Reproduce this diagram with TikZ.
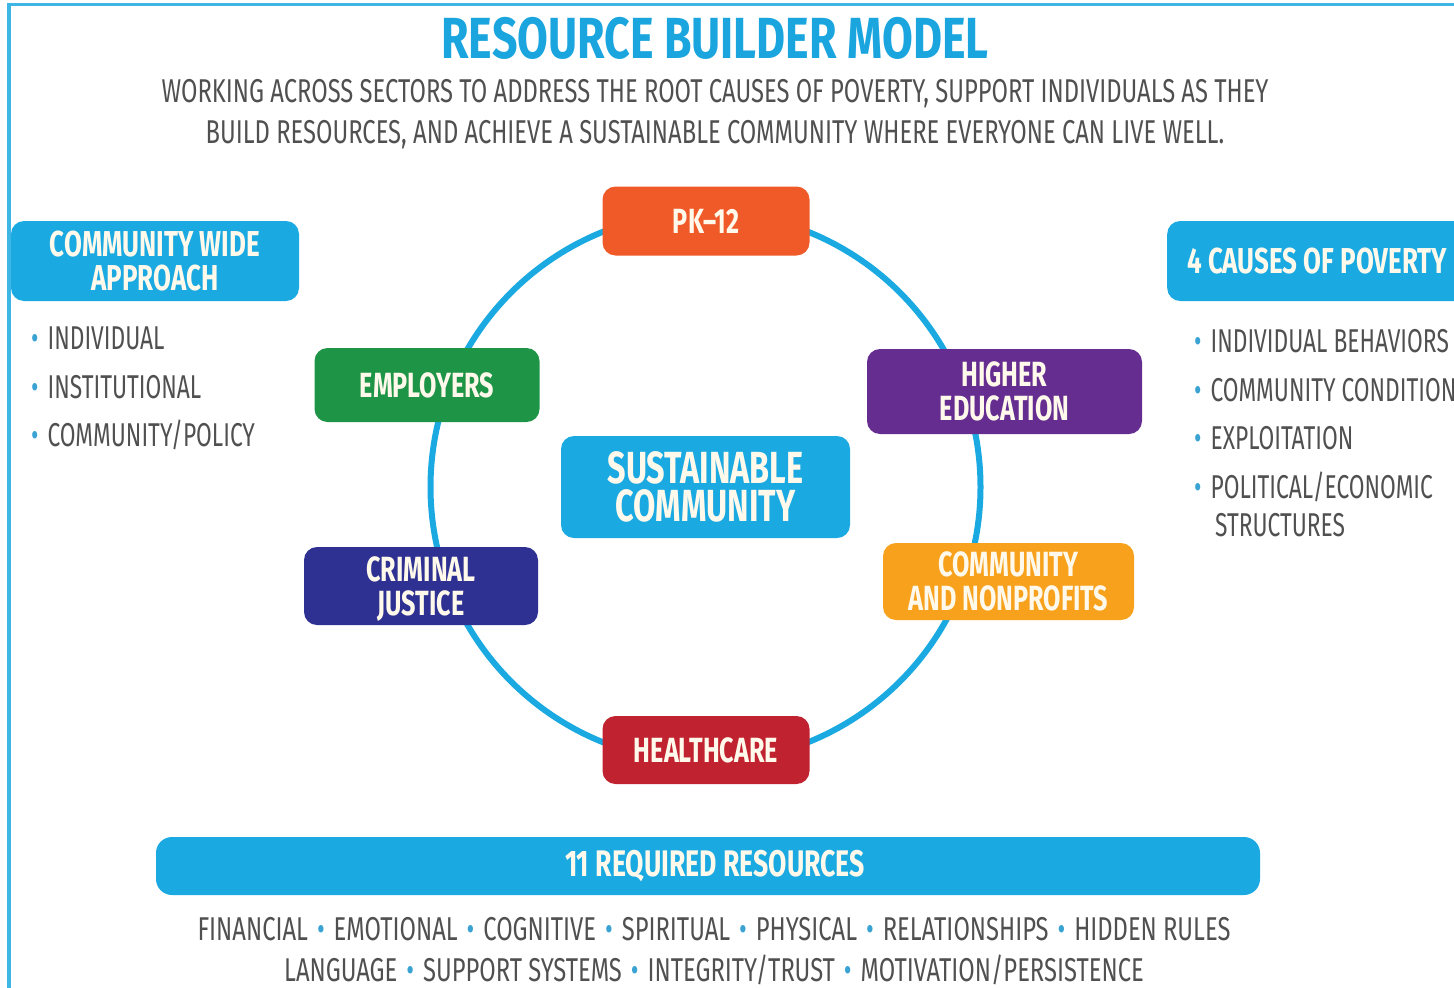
\documentclass[tikz,border=0pt]{standalone}
\usepackage{fontspec}
\setmainfont{Fira Sans}[FakeStretch=0.72]
\newfontfamily\titlefont{Fira Sans}[FakeStretch=0.77]
\newfontfamily\listfont{Fira Sans}[FakeStretch=0.69]
\usetikzlibrary{positioning}

\definecolor{skyblue}{HTML}{1BA9E1}
\definecolor{titleblue}{HTML}{1AA5DE}
\definecolor{greytext}{HTML}{505050}
\definecolor{bulletblue}{HTML}{3AA3D3}
\definecolor{boxtext}{HTML}{FFF9EC}
\definecolor{pkorange}{HTML}{F05A28}
\definecolor{empgreen}{HTML}{1E9447}
\definecolor{edupurple}{HTML}{662D91}
\definecolor{justnavy}{HTML}{2E3192}
\definecolor{nonprofit}{HTML}{F7A11C}
\definecolor{healthred}{HTML}{C1222F}

\newcommand{\bul}{{\color{bulletblue}•}}
\newcommand{\sepbul}{\hspace{9pt}\bul\hspace{9pt}}

\tikzset{
  sector/.style={rounded corners=13pt, text=boxtext, align=center, inner sep=0pt,
    font=\bfseries\fontsize{35}{34}\selectfont},
  header/.style={sector, fill=skyblue, font=\bfseries\fontsize{36}{34}\selectfont},
  greyline/.style={text=greytext, inner sep=0pt, font=\fontsize{33}{33}\selectfont},
  listline/.style={greyline, anchor=base west, font=\listfont\fontsize{33}{33}\selectfont},
}

\begin{document}
\begin{tikzpicture}[x=1pt,y=-1pt]
\useasboundingbox (0,0) rectangle (1454,988);
\draw[skyblue!85, line width=3.5pt] (9,988) -- (9,4.5) -- (1454,4.5);

% title and subtitle
\node[anchor=base, text=titleblue, inner sep=0pt, font=\titlefont\bfseries\fontsize{58}{58}\selectfont] (title) at (715,58) {RESOURCE BUILDER MODEL};
\node[greyline, anchor=base] (sub1) at (715,102) {WORKING ACROSS SECTORS TO ADDRESS THE ROOT CAUSES OF POVERTY, SUPPORT INDIVIDUALS AS THEY};
\node[greyline, anchor=base] (sub2) at (715,143) {BUILD RESOURCES, AND ACHIEVE A SUSTAINABLE COMMUNITY WHERE EVERYONE CAN LIVE WELL.};

% the ring of sectors
\node[sector, fill=skyblue, minimum width=289pt, minimum height=102pt,
  font=\bfseries\fontsize{45}{38}\selectfont] (sust) at (705.5,487) {SUSTAINABLE\\COMMUNITY};
\draw[skyblue, line width=6pt] (sust.center) circle (275);

\node[sector, fill=pkorange, minimum width=207pt, minimum height=69pt] (pk) at (706,221) {PK--12};
\node[sector, fill=empgreen, minimum width=225pt, minimum height=74pt] (emp) at (427,385) {EMPLOYERS};
\node[sector, fill=edupurple, minimum width=275pt, minimum height=85pt] (edu) at (1004.5,391.5) {HIGHER\\EDUCATION};
\node[sector, fill=justnavy, minimum width=234pt, minimum height=78pt] (just) at (421,586) {\rule{0pt}{31pt}CRIMINAL\\JUSTICE};
\node[sector, fill=nonprofit, minimum width=251pt, minimum height=77pt] (nonp) at (1008.5,581.5) {COMMUNITY\\AND NONPROFITS};
\node[sector, fill=healthred, minimum width=207pt, minimum height=68pt] (health) at (706,750) {HEALTHCARE};

% left column
\node[header, minimum width=288pt, minimum height=80pt] (approach) at (155,261) {COMMUNITY WIDE\\APPROACH};
\foreach \y/\t in {349/INDIVIDUAL, 398/INSTITUTIONAL, 446/{COMMUNITY/POLICY}}
  \node[listline] at (31,\y) {\bul\hspace{9pt}\t};

% right column
\node[header, minimum width=300pt, minimum height=80pt, anchor=west] (causes) at (1167,261) {4 CAUSES OF POVERTY};
\foreach \y/\t in {352/INDIVIDUAL BEHAVIORS, 401/COMMUNITY CONDITION, 449/EXPLOITATION, 498/{POLITICAL/ECONOMIC}}
  \node[listline] at (1194,\y) {\bul\hspace{9pt}\t};
\node[listline] (struct) at (1215,536) {STRUCTURES};

% bottom band
\node[header, minimum width=1104pt, minimum height=58pt, rounded corners=16pt,
  font=\bfseries\fontsize{37}{34}\selectfont] (resources) at (708,866) {\hspace*{14pt}11 REQUIRED RESOURCES};
\node[greyline, anchor=base] (res1) at (714,940) {FINANCIAL\sepbul EMOTIONAL\sepbul COGNITIVE\sepbul SPIRITUAL\sepbul PHYSICAL\sepbul RELATIONSHIPS\sepbul HIDDEN RULES};
\node[greyline, anchor=base] (res2) at (714,981) {LANGUAGE\sepbul SUPPORT SYSTEMS\sepbul INTEGRITY/TRUST\sepbul MOTIVATION/PERSISTENCE};
\end{tikzpicture}
\end{document}
